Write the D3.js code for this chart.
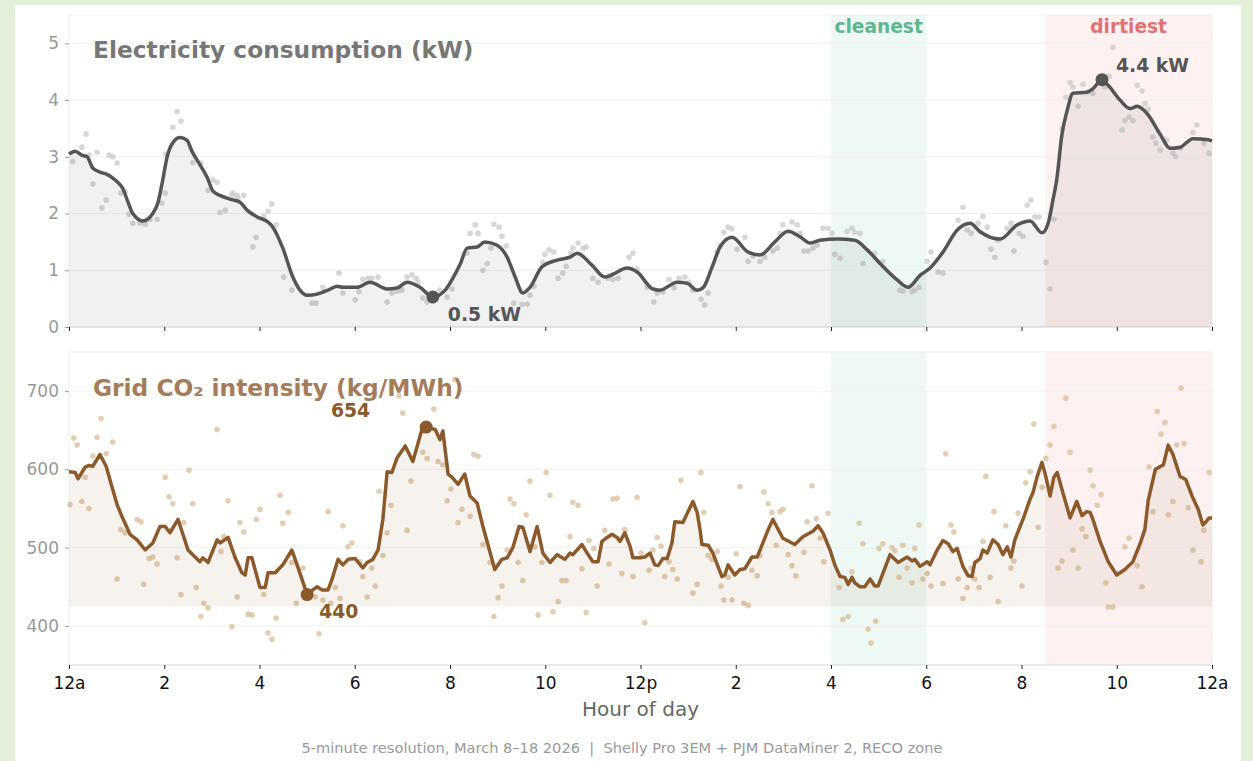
<!DOCTYPE html>
<html>
<head>
<meta charset="utf-8">
<script src="https://cdn.jsdelivr.net/npm/d3@7"></script>
<style>
  html, body { margin: 0; padding: 0; background: #e2efd9; }
  svg { display: block; font-family: "DejaVu Sans", sans-serif; }
</style>
</head>
<body>
<svg id="chart" width="1253" height="761"></svg>
<script>
(function(){
"use strict";

// ---- data (hour of day, value) ----
const hourTicks = [0, 2, 4, 6, 8, 10, 12, 14, 16, 18, 20, 22, 24];
const hourLabels = ["12a", "2", "4", "6", "8", "10", "12p", "2", "4", "6", "8", "10", "12a"];
const kwTicks = [0, 1, 2, 3, 4, 5];
const co2Ticks = [400, 500, 600, 700];

const cleanest = [16, 18];
const dirtiest = [20.5, 24];

// smoothed consumption line (kW)
const kwLineHours = [0, 0.13, 0.27, 0.38, 0.5, 0.65, 0.8, 0.97, 1.13, 1.24, 1.34, 1.55, 1.76, 1.87, 1.97, 2.06, 2.18, 2.33, 2.48, 2.58, 2.69, 2.9, 3.02, 3.17, 3.44, 3.59, 3.74, 3.95, 4.18, 4.28, 4.49, 4.7, 4.85, 5.0, 5.21, 5.44, 5.63, 5.75, 6.05, 6.32, 6.68, 6.89, 7.1, 7.37, 7.64, 7.9, 8.06, 8.21, 8.36, 8.57, 8.73, 8.99, 9.2, 9.36, 9.53, 9.68, 9.93, 10.25, 10.52, 10.67, 10.98, 11.25, 11.42, 11.72, 11.93, 12.26, 12.41, 12.77, 12.98, 13.19, 13.31, 13.5, 13.67, 13.92, 14.26, 14.51, 14.82, 15.1, 15.35, 15.56, 15.77, 16.13, 16.5, 16.76, 17.03, 17.39, 17.62, 17.87, 18.08, 18.35, 18.65, 18.92, 19.13, 19.55, 19.91, 20.18, 20.43, 20.56, 20.66, 20.74, 20.85, 20.96, 21.08, 21.37, 21.5, 21.69, 21.82, 22.07, 22.28, 22.43, 22.64, 22.91, 23.12, 23.33, 23.6, 23.92, 24];
const kwLine = [3.05, 3.1, 3.03, 3.0, 2.8, 2.73, 2.69, 2.59, 2.44, 2.2, 2.0, 1.87, 2.0, 2.2, 2.6, 3.0, 3.25, 3.34, 3.29, 3.1, 2.94, 2.64, 2.4, 2.32, 2.24, 2.2, 2.06, 1.94, 1.85, 1.76, 1.39, 0.88, 0.65, 0.56, 0.58, 0.65, 0.72, 0.7, 0.7, 0.79, 0.67, 0.69, 0.79, 0.7, 0.53, 0.65, 0.86, 1.1, 1.39, 1.41, 1.5, 1.44, 1.23, 0.9, 0.6, 0.7, 1.06, 1.18, 1.23, 1.3, 1.09, 0.88, 0.93, 1.04, 0.97, 0.67, 0.65, 0.79, 0.77, 0.65, 0.69, 1.05, 1.41, 1.58, 1.32, 1.27, 1.5, 1.69, 1.59, 1.48, 1.53, 1.55, 1.53, 1.36, 1.12, 0.83, 0.7, 0.91, 1.04, 1.32, 1.71, 1.83, 1.68, 1.55, 1.8, 1.87, 1.66, 1.83, 2.24, 2.6, 3.4, 3.82, 4.12, 4.14, 4.2, 4.36, 4.26, 4.0, 3.85, 3.89, 3.76, 3.4, 3.15, 3.17, 3.32, 3.3, 3.28];

// 5-minute readings (kW)
const kwDotHours = [0.08, 0.27, 0.36, 0.42, 0.5, 0.59, 0.69, 0.78, 0.84, 0.92, 1.01, 1.09, 1.18, 1.26, 1.34, 1.49, 1.6, 1.7, 1.85, 1.95, 2.02, 2.03, 2.18, 2.27, 2.35, 2.6, 2.77, 2.92, 3.02, 3.11, 3.17, 3.28, 3.42, 3.44, 3.53, 3.55, 3.67, 3.86, 3.93, 4.09, 4.18, 4.26, 4.35, 4.51, 4.68, 5.1, 5.19, 5.33, 5.67, 5.75, 6.01, 6.09, 6.17, 6.28, 6.36, 6.49, 6.68, 6.78, 6.89, 6.95, 6.99, 7.1, 7.2, 7.29, 7.33, 7.43, 7.52, 7.62, 7.79, 7.94, 8.04, 8.36, 8.42, 8.53, 8.59, 8.69, 8.78, 8.86, 8.92, 9.03, 9.09, 9.18, 9.34, 9.51, 9.62, 9.68, 9.76, 9.95, 9.99, 10.08, 10.18, 10.27, 10.37, 10.44, 10.54, 10.58, 10.69, 10.79, 10.86, 11.0, 11.11, 11.32, 11.42, 11.53, 11.76, 11.84, 11.93, 12.14, 12.28, 12.35, 12.47, 12.6, 12.7, 12.81, 12.93, 13.02, 13.1, 13.27, 13.35, 13.42, 13.61, 13.67, 13.75, 13.84, 13.92, 14.03, 14.19, 14.26, 14.36, 14.51, 14.61, 14.78, 14.87, 14.93, 14.99, 15.18, 15.29, 15.35, 15.43, 15.52, 15.62, 15.71, 15.83, 15.94, 16.02, 16.08, 16.19, 16.34, 16.44, 16.5, 16.61, 16.67, 16.92, 17.09, 17.45, 17.51, 17.7, 17.76, 17.85, 18.02, 18.1, 18.25, 18.35, 18.67, 18.77, 18.86, 18.94, 19.09, 19.19, 19.28, 19.36, 19.44, 19.51, 19.7, 19.78, 19.84, 19.95, 20.03, 20.12, 20.2, 20.28, 20.37, 20.51, 20.6, 20.68, 20.85, 20.93, 21.02, 21.08, 21.19, 21.29, 21.4, 21.5, 21.75, 21.84, 21.92, 22.11, 22.17, 22.26, 22.34, 22.43, 22.53, 22.59, 22.66, 22.76, 22.82, 22.91, 23.05, 23.18, 23.24, 23.33, 23.6, 23.68, 23.83, 23.94];
const kwDots = [2.92, 3.17, 3.4, 3.03, 2.52, 3.08, 2.1, 2.24, 3.03, 3.0, 2.89, 2.36, 2.38, 1.99, 1.83, 1.83, 1.81, 1.9, 1.9, 2.18, 2.36, 3.05, 3.52, 3.8, 3.63, 2.9, 2.89, 2.41, 2.59, 2.55, 2.02, 2.06, 2.32, 2.36, 2.32, 2.27, 2.32, 1.41, 1.58, 1.95, 2.04, 2.17, 1.8, 0.88, 0.65, 0.42, 0.42, 0.7, 0.95, 0.6, 0.48, 0.62, 0.84, 0.86, 0.86, 0.88, 0.44, 0.6, 0.63, 0.7, 0.65, 0.88, 0.92, 0.86, 0.79, 0.51, 0.44, 0.46, 0.65, 0.53, 0.67, 1.3, 1.65, 1.8, 1.65, 1.0, 1.12, 1.39, 1.81, 1.76, 1.6, 1.43, 0.42, 0.4, 0.4, 0.56, 0.72, 1.14, 1.28, 1.36, 1.32, 0.86, 0.95, 1.07, 1.3, 1.39, 1.48, 1.39, 1.41, 0.86, 0.79, 0.86, 0.84, 0.86, 1.23, 1.3, 1.02, 0.7, 0.44, 0.6, 0.62, 0.84, 0.69, 0.86, 0.88, 0.79, 0.65, 0.49, 0.39, 0.6, 1.32, 1.44, 1.67, 1.76, 1.73, 1.37, 1.58, 1.16, 1.25, 1.16, 1.23, 1.34, 1.39, 1.65, 1.8, 1.85, 1.8, 1.65, 1.34, 1.34, 1.39, 1.44, 1.74, 1.74, 1.65, 1.28, 1.21, 1.69, 1.74, 1.67, 1.65, 1.12, 1.3, 1.16, 0.65, 0.63, 0.62, 0.65, 0.7, 1.16, 1.32, 0.97, 0.95, 1.88, 2.11, 1.71, 1.65, 1.83, 1.95, 1.76, 1.37, 1.23, 1.53, 1.74, 1.83, 1.34, 1.65, 1.6, 2.15, 2.24, 1.94, 1.94, 1.14, 0.67, 1.9, 3.5, 4.05, 4.31, 4.23, 3.89, 4.28, 4.14, 4.12, 4.23, 4.42, 4.93, 3.47, 3.64, 3.7, 3.64, 4.26, 4.16, 3.94, 3.84, 3.35, 3.24, 3.12, 3.29, 3.06, 3.0, 3.15, 3.43, 3.56, 3.24, 3.06];

// smoothed grid intensity line (kg/MWh)
const co2LineHours = [0, 0.13, 0.19, 0.34, 0.42, 0.5, 0.65, 0.78, 0.9, 1.01, 1.11, 1.28, 1.43, 1.6, 1.76, 1.91, 2.02, 2.12, 2.29, 2.5, 2.6, 2.75, 2.81, 2.92, 3.11, 3.17, 3.34, 3.49, 3.63, 3.7, 3.76, 3.84, 4.01, 4.12, 4.18, 4.33, 4.49, 4.68, 4.79, 5.0, 5.12, 5.21, 5.31, 5.44, 5.52, 5.65, 5.75, 5.86, 6.01, 6.17, 6.26, 6.38, 6.49, 6.59, 6.68, 6.78, 6.89, 7.06, 7.22, 7.35, 7.41, 7.5, 7.69, 7.79, 7.85, 7.96, 8.04, 8.17, 8.31, 8.42, 8.57, 8.7, 8.94, 9.09, 9.2, 9.32, 9.45, 9.53, 9.68, 9.83, 9.95, 10.1, 10.25, 10.41, 10.52, 10.58, 10.77, 10.88, 11.0, 11.11, 11.19, 11.3, 11.4, 11.51, 11.57, 11.67, 11.78, 11.84, 11.99, 12.09, 12.2, 12.3, 12.37, 12.47, 12.56, 12.66, 12.72, 12.89, 13.1, 13.19, 13.25, 13.29, 13.42, 13.52, 13.71, 13.77, 13.84, 13.98, 14.09, 14.19, 14.34, 14.45, 14.57, 14.68, 14.78, 14.99, 15.24, 15.41, 15.62, 15.73, 15.83, 15.98, 16.08, 16.19, 16.29, 16.36, 16.44, 16.5, 16.61, 16.71, 16.82, 16.92, 16.99, 17.24, 17.41, 17.6, 17.7, 17.76, 17.87, 18.02, 18.08, 18.23, 18.35, 18.46, 18.56, 18.65, 18.77, 18.88, 18.96, 19.02, 19.13, 19.19, 19.28, 19.4, 19.51, 19.61, 19.7, 19.78, 19.86, 19.97, 20.03, 20.18, 20.24, 20.33, 20.43, 20.51, 20.6, 20.68, 20.75, 20.87, 21.02, 21.16, 21.27, 21.37, 21.44, 21.5, 21.65, 21.82, 22.0, 22.17, 22.34, 22.49, 22.59, 22.66, 22.81, 22.98, 23.08, 23.18, 23.33, 23.45, 23.58, 23.71, 23.81, 23.86, 23.94, 24];
const co2Line = [597, 596, 588, 603, 605, 604, 619, 604, 578, 555, 540, 517, 510, 497, 506, 527, 527, 519, 536, 497, 491, 482, 487, 481, 510, 506, 513, 487, 468, 465, 487, 487, 449, 449, 468, 468, 478, 497, 478, 440, 446, 450, 446, 446, 459, 485, 478, 485, 486, 474, 481, 485, 497, 536, 597, 596, 615, 630, 610, 638, 651, 654, 651, 638, 649, 594, 590, 581, 594, 566, 557, 525, 472, 485, 487, 500, 527, 526, 495, 527, 493, 481, 491, 485, 493, 491, 504, 493, 482, 482, 508, 513, 517, 513, 508, 519, 502, 487, 487, 488, 493, 478, 477, 486, 486, 506, 533, 532, 559, 545, 523, 504, 503, 493, 463, 465, 478, 465, 472, 473, 488, 488, 506, 523, 536, 512, 504, 514, 521, 528, 519, 497, 478, 463, 462, 453, 462, 455, 450, 450, 460, 451, 451, 491, 481, 488, 483, 485, 476, 482, 478, 497, 509, 505, 495, 499, 476, 464, 463, 481, 486, 497, 493, 510, 504, 491, 501, 488, 510, 527, 536, 562, 570, 591, 609, 591, 566, 590, 596, 570, 538, 559, 541, 546, 545, 536, 508, 482, 465, 472, 482, 505, 523, 560, 600, 606, 631, 619, 591, 587, 566, 549, 529, 532, 538, 538];
const co2Floor = 425;

// 5-minute readings (kg/MWh)
const co2DotHours = [0.02, 0.1, 0.17, 0.27, 0.34, 0.42, 0.5, 0.59, 0.67, 0.78, 0.92, 1.01, 1.09, 1.18, 1.43, 1.51, 1.57, 1.68, 1.76, 1.85, 2.02, 2.1, 2.18, 2.27, 2.35, 2.41, 2.52, 2.6, 2.67, 2.77, 2.83, 2.92, 3.11, 3.19, 3.25, 3.34, 3.42, 3.53, 3.59, 3.67, 3.76, 3.84, 3.93, 4.01, 4.09, 4.18, 4.26, 4.35, 4.43, 4.49, 4.6, 4.68, 4.77, 4.91, 5.17, 5.25, 5.33, 5.44, 5.5, 5.59, 5.69, 5.75, 5.86, 5.94, 6.11, 6.17, 6.26, 6.36, 6.43, 6.51, 6.59, 6.68, 6.76, 6.93, 7.01, 7.1, 7.18, 7.43, 7.52, 7.66, 7.75, 7.85, 7.94, 8.02, 8.1, 8.17, 8.25, 8.42, 8.5, 8.59, 8.69, 8.84, 8.92, 9.01, 9.09, 9.2, 9.26, 9.34, 9.43, 9.53, 9.6, 9.68, 9.78, 9.85, 9.93, 10.02, 10.1, 10.16, 10.27, 10.35, 10.44, 10.52, 10.58, 10.69, 10.77, 10.86, 10.92, 11.02, 11.09, 11.25, 11.34, 11.42, 11.51, 11.61, 11.67, 11.84, 11.93, 12.01, 12.09, 12.18, 12.26, 12.35, 12.43, 12.51, 12.6, 12.68, 12.77, 12.85, 13.1, 13.19, 13.27, 13.33, 13.42, 13.5, 13.61, 13.69, 13.75, 13.84, 13.92, 14.01, 14.09, 14.17, 14.26, 14.34, 14.45, 14.51, 14.59, 14.68, 14.76, 14.85, 14.93, 14.99, 15.1, 15.18, 15.26, 15.43, 15.5, 15.6, 15.69, 15.77, 15.85, 15.94, 16.17, 16.25, 16.36, 16.44, 16.59, 16.67, 16.78, 16.84, 16.94, 17.01, 17.09, 17.28, 17.34, 17.43, 17.51, 17.6, 17.7, 17.76, 17.85, 17.93, 18.02, 18.1, 18.35, 18.41, 18.52, 18.58, 18.67, 18.77, 18.86, 18.94, 19.02, 19.11, 19.19, 19.25, 19.34, 19.42, 19.51, 19.67, 19.78, 19.84, 19.93, 20.01, 20.09, 20.18, 20.26, 20.35, 20.43, 20.51, 20.6, 20.68, 20.77, 20.85, 20.93, 21.02, 21.08, 21.19, 21.27, 21.35, 21.44, 21.5, 21.59, 21.67, 21.77, 21.82, 21.92, 22.17, 22.26, 22.43, 22.53, 22.68, 22.76, 22.85, 22.93, 23.01, 23.08, 23.18, 23.26, 23.35, 23.41, 23.5, 23.6, 23.77, 23.83, 23.94];
const co2Dots = [555, 640, 631, 559, 590, 550, 617, 641, 665, 620, 635, 460, 523, 519, 536, 533, 453, 486, 488, 479, 590, 565, 556, 487, 440, 532, 599, 556, 449, 412, 429, 423, 651, 495, 514, 560, 399, 437, 532, 520, 415, 414, 536, 549, 440, 391, 383, 410, 567, 531, 545, 481, 429, 474, 437, 390, 433, 546, 429, 449, 435, 528, 501, 506, 482, 463, 437, 474, 451, 572, 490, 519, 554, 694, 672, 522, 585, 622, 614, 677, 610, 606, 560, 575, 715, 532, 549, 540, 619, 617, 504, 481, 412, 436, 451, 497, 562, 556, 481, 458, 542, 585, 501, 414, 481, 596, 567, 418, 431, 458, 458, 514, 558, 554, 473, 417, 509, 499, 451, 522, 479, 562, 563, 467, 523, 463, 564, 493, 404, 471, 497, 513, 502, 463, 482, 472, 460, 586, 442, 453, 596, 545, 490, 485, 495, 451, 433, 462, 433, 492, 578, 429, 426, 471, 464, 490, 571, 556, 545, 503, 546, 549, 491, 477, 464, 494, 533, 579, 537, 512, 482, 544, 449, 408, 412, 469, 531, 505, 396, 378, 406, 499, 505, 500, 496, 462, 503, 474, 455, 499, 529, 460, 467, 451, 454, 620, 529, 520, 460, 435, 449, 474, 460, 449, 508, 591, 462, 546, 431, 528, 474, 483, 544, 451, 583, 597, 658, 526, 577, 614, 631, 655, 474, 483, 691, 622, 497, 474, 524, 514, 599, 579, 554, 568, 455, 424, 424, 501, 512, 477, 450, 603, 546, 674, 645, 660, 542, 559, 631, 704, 633, 551, 497, 482, 522, 596];

// ---- drawing ----
const svg = d3.select("#chart");
const H = 761;

svg.append("rect").attr("x", 15).attr("y", 5).attr("width", 1226).attr("height", H)
   .attr("fill", "#fff");

const x = d3.scaleLinear().domain([0, 24]).range([69, 1212]);
const yKw = d3.scaleLinear().domain([0, 5.5]).range([327, 15]);
const yCo2 = d3.scaleLinear().domain([350, 750]).range([665, 352]);

function zip(hs, vs){ return hs.map((h, i) => ({h, v: vs[i]})); }

function drawPanel(opt){
  const y = opt.y;
  const top = y.range()[1], bottom = y.range()[0];
  const g = svg.append("g");

  // highlight bands
  [[cleanest, "rgba(92,184,146,0.1)"], [dirtiest, "rgba(232,120,120,0.1)"]].forEach(function(b){
    g.append("rect")
      .attr("x", x(b[0][0])).attr("y", top)
      .attr("width", x(b[0][1]) - x(b[0][0])).attr("height", bottom - top)
      .attr("fill", b[1]);
  });

  // grid
  g.selectAll("line.grid").data(opt.ticks).enter().append("line")
    .attr("class", "grid")
    .attr("x1", x(0)).attr("x2", x(24))
    .attr("y1", d => y(d)).attr("y2", d => y(d))
    .attr("stroke", "#f0f0f0").attr("stroke-width", 1);

  // frame
  g.append("rect").attr("x", x(0)).attr("y", top)
    .attr("width", x(24) - x(0)).attr("height", bottom - top)
    .attr("fill", "none").attr("stroke", "#efefef");
  g.append("line").attr("x1", x(0)).attr("x2", x(24))
    .attr("y1", bottom).attr("y2", bottom).attr("stroke", "#dcdcdc");

  // y axis
  const ya = d3.axisLeft(y).tickValues(opt.ticks).tickSize(4).tickPadding(6).tickFormat(d3.format("d"));
  const yg = g.append("g").attr("transform", "translate(" + x(0) + ",0)").call(ya);
  yg.select(".domain").remove();
  yg.selectAll("line").attr("stroke", "#999");
  yg.selectAll("text").attr("fill", "#999").style("font-size", "17px")
    .style("font-family", "DejaVu Sans");

  // x axis
  const xa = d3.axisBottom(x).tickValues(hourTicks).tickSize(4).tickPadding(8)
    .tickFormat((d, i) => opt.xLabels ? hourLabels[i] : "");
  const xg = g.append("g").attr("transform", "translate(0," + bottom + ")").call(xa);
  xg.select(".domain").remove();
  xg.selectAll("line").attr("stroke", "#222");
  xg.selectAll("text").attr("fill", "#111").style("font-size", "17px")
    .style("font-family", "DejaVu Sans");

  // dots
  g.append("g").selectAll("circle").data(zip(opt.dotHours, opt.dots)).enter().append("circle")
    .attr("cx", d => x(d.h)).attr("cy", d => y(d.v)).attr("r", 2.8)
    .attr("fill", opt.dotColor).attr("fill-opacity", 0.75);

  // area + line
  const pts = zip(opt.lineHours, opt.line);
  g.append("path").datum(pts)
    .attr("d", d3.area().x(d => x(d.h)).y0(y(opt.floor)).y1(d => y(d.v)).curve(opt.curve))
    .attr("fill", opt.areaColor);
  g.append("path").datum(pts)
    .attr("d", d3.line().x(d => x(d.h)).y(d => y(d.v)).curve(opt.curve))
    .attr("fill", "none").attr("stroke", opt.lineColor).attr("stroke-width", 3.5)
    .attr("stroke-linejoin", "round");

  // min / max markers
  const lo = d3.least(pts, d => d.v), hi = d3.greatest(pts, d => d.v);
  [lo, hi].forEach(function(p){
    g.append("circle").attr("cx", x(p.h)).attr("cy", y(p.v)).attr("r", 6.5)
      .attr("fill", opt.lineColor);
  });
  opt.labels(g, y, lo, hi);

  // title
  g.append("text").attr("x", 93).attr("y", opt.titleY)
    .attr("fill", opt.titleColor).style("font-size", "23.3px").style("font-weight", "bold")
    .text(opt.title);
  return g;
}

drawPanel({
  y: yKw, ticks: kwTicks, floor: 0,
  lineHours: kwLineHours, line: kwLine, dotHours: kwDotHours, dots: kwDots,
  curve: d3.curveMonotoneX,
  lineColor: "#555", areaColor: "rgba(0,0,0,0.055)", dotColor: "#c9c9c9",
  title: "Electricity consumption (kW)", titleY: 58, titleColor: "#777",
  xLabels: false,
  labels: function(g, y, lo, hi){
    g.append("text").attr("x", x(lo.h) + 15).attr("y", y(lo.v) + 24)
      .attr("fill", "#555").style("font-size", "18.8px").style("font-weight", "bold")
      .text(d3.format(".1f")(lo.v) + " kW");
    g.append("text").attr("x", x(hi.h) + 14).attr("y", y(hi.v) - 8)
      .attr("fill", "#555").style("font-size", "18.8px").style("font-weight", "bold")
      .text(d3.format(".1f")(hi.v) + " kW");
  }
});

drawPanel({
  y: yCo2, ticks: co2Ticks, floor: co2Floor,
  lineHours: co2LineHours, line: co2Line, dotHours: co2DotHours, dots: co2Dots,
  curve: d3.curveLinear,
  lineColor: "#8b5a2b", areaColor: "rgba(139,90,43,0.075)", dotColor: "#d8bd9b",
  title: "Grid CO\u2082 intensity (kg/MWh)", titleY: 396, titleColor: "#a37c5c",
  xLabels: true,
  labels: function(g, y, lo, hi){
    g.append("text").attr("x", x(lo.h) + 12).attr("y", y(lo.v) + 23)
      .attr("fill", "#8b5a2b").style("font-size", "18.8px").style("font-weight", "bold")
      .text(lo.v);
    g.append("text").attr("x", x(hi.h) - 56).attr("y", y(hi.v) - 10)
      .attr("text-anchor", "end")
      .attr("fill", "#8b5a2b").style("font-size", "18.8px").style("font-weight", "bold")
      .text(hi.v);
  }
});

// band labels
[[cleanest, "cleanest", "#5cb891"], [dirtiest, "dirtiest", "#e07272"]].forEach(function(b){
  svg.append("text").attr("x", x((b[0][0] + b[0][1]) / 2)).attr("y", 33)
    .attr("text-anchor", "middle").attr("fill", b[2])
    .style("font-size", "18.6px").style("font-weight", "bold").text(b[1]);
});

svg.append("text").attr("x", x(12)).attr("y", 716).attr("text-anchor", "middle")
  .attr("fill", "#666").style("font-size", "20px").text("Hour of day");

svg.append("text").attr("x", 622).attr("y", 753).attr("text-anchor", "middle")
  .attr("fill", "#999").style("font-size", "14.6px").style("white-space", "pre")
  .text("5-minute resolution, March 8\u201318 2026  |  Shelly Pro 3EM + PJM DataMiner 2, RECO zone");

})();
</script>
</body>
</html>
